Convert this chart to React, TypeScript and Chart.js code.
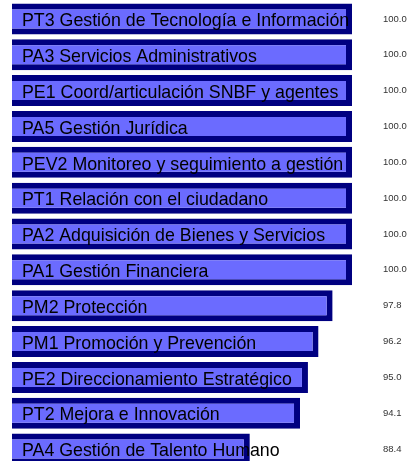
import React, { useEffect, useRef } from "react";
import { Chart, registerables } from "chart.js";

Chart.register(...registerables);

const categories: string[] = [
  "PT3 Gestión de Tecnología e Información",
  "PA3 Servicios Administrativos",
  "PE1 Coord/articulación SNBF y agentes",
  "PA5 Gestión Jurídica",
  "PEV2 Monitoreo y seguimiento a gestión",
  "PT1 Relación con el ciudadano",
  "PA2 Adquisición de Bienes y Servicios",
  "PA1 Gestión Financiera",
  "PM2 Protección",
  "PM1 Promoción y Prevención",
  "PE2 Direccionamiento Estratégico",
  "PT2 Mejora e Innovación",
  "PA4 Gestión de Talento Humano",
];

const values: number[] = [100.0, 100.0, 100.0, 100.0, 100.0, 100.0, 100.0, 100.0, 97.8, 96.2, 95.0, 94.1, 88.4];

const valueLabels: string[] = values.map((v) => v.toFixed(1));

const labelPlugin = {
  id: "barLabels",
  afterDatasetsDraw(chart: any) {
    const ctx = chart.ctx;
    const meta = chart.getDatasetMeta(0);
    const xScale = chart.scales.x;
    ctx.save();
    meta.data.forEach((bar: any, i: number) => {
      ctx.fillStyle = "#000000";
      ctx.font = '17.8px "Liberation Sans", Arial, sans-serif';
      ctx.textAlign = "left";
      ctx.textBaseline = "alphabetic";
      ctx.fillText(categories[i], xScale.left + 10, bar.y + 7.2);
      ctx.fillStyle = "#333333";
      ctx.font = '9.5px "Liberation Sans", Arial, sans-serif';
      ctx.textBaseline = "middle";
      ctx.fillText(valueLabels[i], xScale.right + 31, bar.y);
    });
    ctx.restore();
  },
};

export default function App() {
  const canvasRef = useRef<HTMLCanvasElement | null>(null);

  useEffect(() => {
    if (!canvasRef.current) return;
    const chart = new Chart(canvasRef.current, {
      type: "bar",
      data: {
        labels: categories,
        datasets: [
          {
            data: values,
            backgroundColor: "#6B6BFF",
            borderColor: "#000080",
            borderWidth: 6,
            borderSkipped: false,
            barPercentage: 0.865,
            categoryPercentage: 1,
          },
        ],
      },
      options: {
        indexAxis: "y",
        responsive: false,
        animation: false,
        devicePixelRatio: 1,
        layout: { padding: { left: 12, right: 55, top: 1, bottom: 0 } },
        plugins: {
          legend: { display: false },
          tooltip: { enabled: false },
          title: { display: false },
        },
        scales: {
          x: { display: false, min: 61.4, max: 100 },
          y: { display: false },
        },
      },
      plugins: [labelPlugin],
    });
    return () => chart.destroy();
  }, []);

  return (
    <div style={{ position: "fixed", left: 0, top: 0, width: 407, height: 467 }}>
      <canvas ref={canvasRef} width={407} height={467} style={{ display: "block" }} />
    </div>
  );
}
